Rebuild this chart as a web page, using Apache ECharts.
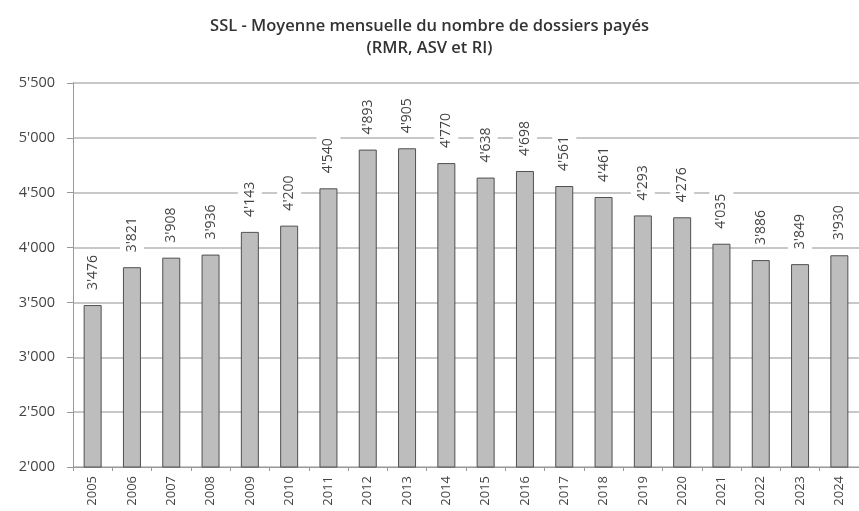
<!DOCTYPE html>
<html>
<head>
<meta charset="utf-8">
<script src="https://cdn.jsdelivr.net/npm/echarts@6/dist/echarts.min.js"></script>
<style>html,body{margin:0;padding:0;background:#fff}#c{width:859px;height:511px}</style>
</head>
<body>
<div id="c"></div>
<script>
const years = ['2005','2006','2007','2008','2009','2010','2011','2012','2013','2014','2015','2016','2017','2018','2019','2020','2021','2022','2023','2024'];
const values = [3476, 3821, 3908, 3936, 4143, 4200, 4540, 4893, 4905, 4770, 4638, 4698, 4561, 4461, 4293, 4276, 4035, 3886, 3849, 3930];
const yMin = 2000, yMax = 5500, yStep = 500;

function fmt(v) {
  const t = Math.floor(v / 1000), r = v % 1000;
  return t + "'" + String(r).padStart(3, '0');
}

const chart = echarts.init(document.getElementById('c'), null, {renderer: 'canvas'});
chart.setOption({
  animation: false,
  backgroundColor: '#fff',
  title: {
    text: 'SSL - Moyenne mensuelle du nombre de dossiers payés\n(RMR, ASV et RI)',
    left: 'center', top: 10,
    textStyle: {fontFamily: 'Open Sans', fontSize: 16.5, fontWeight: 600, color: '#333', lineHeight: 22}
  },
  grid: {left: 73, right: -1, top: 83, bottom: 44, containLabel: false},
  xAxis: {
    type: 'category', data: years, boundaryGap: true,
    axisLine: {lineStyle: {color: '#999', width: 1}},
    axisTick: {show: true, length: 4, lineStyle: {color: '#999'}},
    axisLabel: {rotate: 90, fontFamily: 'Open Sans', fontSize: 13, color: '#444', margin: 9}
  },
  yAxis: {
    type: 'value', min: yMin, max: yMax, interval: yStep,
    axisLine: {show: true, lineStyle: {color: '#999'}},
    axisTick: {show: true, length: 6, lineStyle: {color: '#999'}},
    axisLabel: {formatter: fmt, fontFamily: 'Open Sans', fontSize: 14.5, color: '#444', margin: 18},
    splitLine: {lineStyle: {color: '#c8c8c8', width: 2}}
  },
  series: [{
    type: 'bar', data: values, barWidth: 18,
    itemStyle: {color: '#bdbdbd', borderColor: '#505050', borderWidth: 1},
    label: {
      show: true, position: 'top', rotate: 90, distance: 13,
      align: 'left', verticalAlign: 'middle',
      formatter: p => fmt(p.value),
      fontFamily: 'Open Sans', fontSize: 14, color: '#444',
      backgroundColor: '#fff', padding: [5, 2, 5, 2]
    }
  }]
});
</script>
</body>
</html>
